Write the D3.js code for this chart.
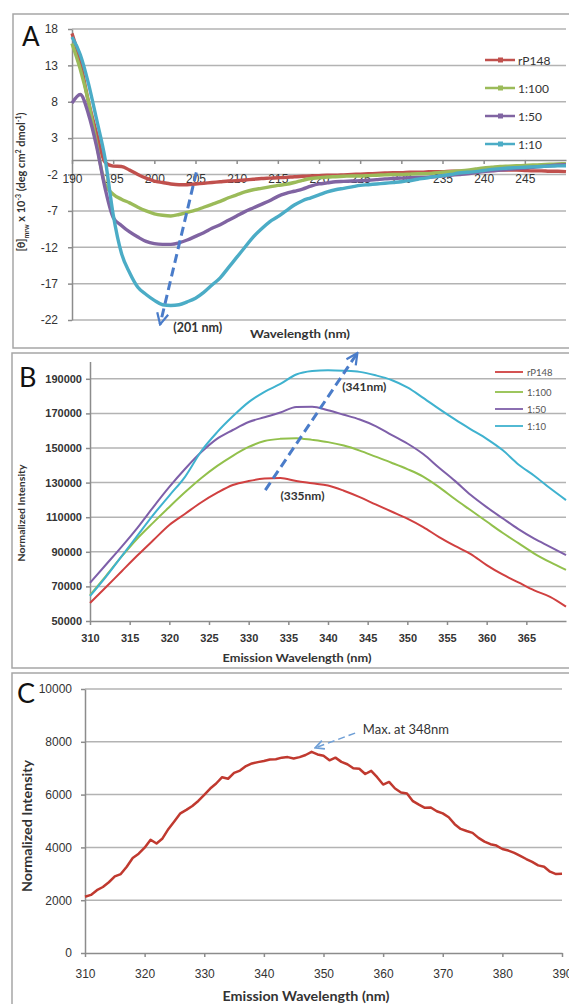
<!DOCTYPE html>
<html>
<head>
<meta charset="utf-8">
<script src="https://cdn.jsdelivr.net/npm/d3@7"></script>
<style>
  body { margin: 0; background: #fff; }
  svg { font-family: Lato, "Open Sans", sans-serif; }
  .axis path, .axis line { stroke: #8c8c8c; stroke-width: 1.5; }
  .axis text { fill: #333; }
</style>
</head>
<body>
<svg id="chart" width="569" height="1004"></svg>
<script>
// ---- Panel A: CD spectra ----
const aWave = d3.range(190, 251);
const aXTicks = [190, 195, 200, 205, 210, 215, 220, 225, 230, 235, 240, 245];
const aYTicks = [-22, -17, -12, -7, -2, 3, 8, 13, 18];
const aNames = ["rP148", "1:100", "1:50", "1:10"];
const aRP148 = [
  17.4, 13.5, 8.0, 3.6, -0.3, -0.85, -0.9, -1.4, -2.0, -2.5,
  -2.9, -3.1, -3.3, -3.4, -3.4, -3.3, -3.2, -3.1, -3.0, -2.9,
  -2.85, -2.75, -2.65, -2.55, -2.5, -2.45, -2.4, -2.3, -2.25, -2.2,
  -2.15, -2.1, -2.1, -2.05, -2.0, -1.95, -1.9, -1.85, -1.8, -1.75,
  -1.75, -1.7, -1.7, -1.65, -1.6, -1.6, -1.55, -1.55, -1.5, -1.5,
  -1.45, -1.45, -1.4, -1.4, -1.4, -1.45, -1.5, -1.5, -1.55, -1.55,
  -1.6];
const a1to100 = [
  16.0, 12.5, 8.0, 2.2, -3.3, -4.7, -5.4, -5.9, -6.5, -7.0,
  -7.4, -7.6, -7.7, -7.5, -7.2, -6.9, -6.5, -6.1, -5.7, -5.2,
  -4.8, -4.4, -4.1, -3.9, -3.7, -3.5, -3.35, -3.1, -2.8, -2.55,
  -2.45, -2.35, -2.3, -2.25, -2.2, -2.2, -2.15, -2.1, -2.05, -2.0,
  -2.0, -1.95, -1.9, -1.9, -1.8, -1.7, -1.6, -1.5, -1.4, -1.25,
  -1.1, -1.0, -0.9, -0.85, -0.8, -0.75, -0.7, -0.65, -0.6, -0.55,
  -0.5];
const a1to50 = [
  7.8, 9.0, 6.3, 1.8, -3.8, -7.9, -9.0, -9.9, -10.6, -11.2,
  -11.5, -11.6, -11.6, -11.4, -11.0, -10.5, -10.0, -9.4, -8.9, -8.3,
  -7.7, -7.1, -6.6, -6.1, -5.6, -5.0, -4.6, -4.3, -4.0, -3.6,
  -3.3, -3.15, -3.0, -2.95, -2.9, -2.85, -2.8, -2.7, -2.6, -2.55,
  -2.5, -2.45, -2.4, -2.4, -2.3, -2.2, -2.1, -2.0, -1.9, -1.75,
  -1.6, -1.5, -1.4, -1.3, -1.2, -1.1, -1.0, -0.9, -0.8, -0.7,
  -0.65];
const a1to10 = [
  16.9, 14.5, 10.5, 5.5, 0.3, -7.5, -12.8, -15.5, -17.5, -18.5,
  -19.3, -19.9, -20.0, -19.9, -19.5, -19.0, -18.2, -17.2, -16.2, -14.8,
  -13.4, -12.0, -10.6, -9.5, -8.5, -7.8, -7.0, -6.2, -5.6, -5.2,
  -4.8, -4.4, -4.1, -3.9, -3.7, -3.5, -3.4, -3.3, -3.2, -3.1,
  -3.0, -2.85, -2.65, -2.5, -2.3, -2.15, -2.0, -1.8, -1.7, -1.6,
  -1.45, -1.3, -1.2, -1.1, -1.05, -1.0, -0.95, -0.9, -0.85, -0.82,
  -0.8];

// ---- Panel B: fluorescence emission ----
const bWave = d3.range(310, 371, 2);
const bXTicks = [310, 315, 320, 325, 330, 335, 340, 345, 350, 355, 360, 365];
const bYTicks = [50000, 70000, 90000, 110000, 130000, 150000, 170000, 190000];
const bNames = ["rP148", "1:100", "1:50", "1:10"];
const bRP148 = [60400, 69500, 78800, 88000, 96800, 105500, 112000, 118500, 124000, 128600,
  130900, 132300, 132700, 130900, 129600, 128300, 125300, 121600, 117400, 113300,
  109200, 104300, 98500, 93400, 88700, 82300, 76900, 72300, 67700, 64000, 58300];
const b1to100 = [65000, 76000, 87300, 97800, 107000, 115900, 124500, 132500, 139500, 145500,
  150600, 154000, 155300, 155700, 154700, 153400, 151400, 148500, 145000, 141500,
  137800, 133500, 127400, 120500, 114000, 107500, 101000, 95000, 89000, 84000, 79500];
const b1to50 = [72000, 82500, 93000, 104000, 116000, 127500, 138000, 147500, 155300, 160400,
  165000, 167800, 170500, 173700, 173900, 171800, 169200, 166500, 162700, 157600,
  152600, 146500, 138600, 131000, 122800, 115800, 109400, 103100, 97600, 92900, 88100];
const b1to10 = [64400, 75500, 87500, 99500, 111500, 122500, 133500, 148000, 159000, 168300,
  176500, 182500, 187000, 192500, 194500, 195000, 194700, 194000, 192000, 189300,
  185000, 179000, 172600, 166500, 160800, 155300, 148800, 140500, 134000, 126700, 119900];

// ---- Panel C: single emission spectrum ----
const cWave = d3.range(310, 391);
const cXTicks = [310, 320, 330, 340, 350, 360, 370, 380, 390];
const cYTicks = [0, 2000, 4000, 6000, 8000, 10000];
const cRP148 = [
  2130, 2200, 2380, 2500, 2680, 2900, 2990, 3270, 3600, 3760,
  3990, 4290, 4150, 4340, 4700, 4990, 5290, 5420, 5570, 5760,
  5990, 6230, 6420, 6660, 6600, 6820, 6910, 7080, 7180, 7230,
  7270, 7330, 7340, 7400, 7420, 7370, 7420, 7500, 7620, 7520,
  7470, 7300, 7400, 7240, 7150, 7000, 6980, 6780, 6900, 6660,
  6380, 6480, 6230, 6080, 6040, 5750, 5620, 5500, 5510, 5370,
  5290, 5140, 4880, 4700, 4620, 4550, 4360, 4220, 4120, 4070,
  3940, 3880, 3790, 3680, 3560, 3450, 3320, 3270, 3080, 2990,
  3000];

const svg = d3.select("#chart");

// arrow heads
const defs = svg.append("defs");
function arrowHead(id, color, size) {
  defs.append("marker")
    .attr("id", id)
    .attr("viewBox", "0 0 10 10")
    .attr("refX", 9).attr("refY", 5)
    .attr("markerWidth", size).attr("markerHeight", size)
    .attr("markerUnits", "userSpaceOnUse")
    .attr("orient", "auto")
    .append("path")
      .attr("d", "M1,1 L9,5 L1,9")
      .attr("fill", "none")
      .attr("stroke", color)
      .attr("stroke-width", 1.6);
}
arrowHead("headBlue", "#4a7cc9", 14);
arrowHead("headLight", "#6f9fd6", 11);

function frame(x, y, w, h) {
  svg.append("rect")
    .attr("x", x).attr("y", y).attr("width", w).attr("height", h)
    .attr("fill", "none").attr("stroke", "#a6a6a6").attr("stroke-width", 1.5);
}

function drawPanel(p) {
  const x = d3.scaleLinear().domain(p.xDomain).range(p.xRange);
  const y = d3.scaleLinear().domain(p.yDomain).range(p.yRange);
  const g = svg.append("g");

  // gridlines
  g.append("g").selectAll("line")
    .data(p.grid)
    .join("line")
      .attr("x1", p.xRange[0]).attr("x2", p.xRange[1])
      .attr("y1", d => y(d)).attr("y2", d => y(d))
      .attr("stroke", "#b3b3b3").attr("stroke-width", 1.5);

  // y axis (plain hyphen minus, like the original)
  g.append("g")
    .attr("class", "axis")
    .attr("transform", `translate(${p.xRange[0]},0)`)
    .call(d3.axisLeft(y).tickValues(p.yTicks).tickSize(4).tickSizeOuter(0)
      .tickPadding(p.yPad).tickFormat(d => String(d)))
    .selectAll("text")
      .style("font-size", p.tickFont + "px")
      .style("font-weight", p.tickWeight);

  // x axis
  g.append("g")
    .attr("class", "axis")
    .attr("transform", `translate(0,${y(p.xAxisAt)})`)
    .call(d3.axisBottom(x).tickValues(p.xTicks).tickSize(4).tickSizeOuter(0)
      .tickPadding(p.xPad).tickFormat(d => String(d)))
    .selectAll("text")
      .style("font-size", p.tickFont + "px")
      .style("font-weight", p.tickWeight);

  // series
  const line = d3.line()
    .x(d => x(d[0]))
    .y(d => y(d[1]))
    .curve(p.curve);

  p.series.forEach((s, i) => {
    g.append("path")
      .datum(s.map((v, j) => [p.wave[j], v]))
      .attr("fill", "none")
      .attr("stroke", p.colors[i])
      .attr("stroke-width", p.lineWidth)
      .attr("stroke-linejoin", "round")
      .attr("d", line);
  });

  return { x, y, g };
}

// ================= Panel A =================
frame(13, 14, 570, 334);
const aColors = ["#c0504d", "#9bbb59", "#8064a2", "#4bacc6"];
const A = drawPanel({
  xDomain: [190, 250], xRange: [72, 566],
  yDomain: [-22, 18], yRange: [320, 29],
  grid: aYTicks, yTicks: aYTicks, xTicks: aXTicks, xAxisAt: 0,
  yPad: 10, xPad: 11, tickFont: 12, tickWeight: "normal",
  wave: aWave, series: [aRP148, a1to100, a1to50, a1to10],
  colors: aColors, lineWidth: 3.4, curve: d3.curveMonotoneX
});

// legend A
aNames.forEach((n, i) => {
  const ly = 60 + i * 28;
  svg.append("line").attr("x1", 485).attr("x2", 515).attr("y1", ly).attr("y2", ly)
    .attr("stroke", aColors[i]).attr("stroke-width", 2.5);
  svg.append("rect").attr("x", 498).attr("y", ly - 2.5).attr("width", 5).attr("height", 5)
    .attr("fill", aColors[i]);
  svg.append("text").attr("x", 518).attr("y", ly + 4.5)
    .style("font-size", "12px").attr("fill", "#333").text(n);
});

// arrow A
svg.append("line")
  .attr("x1", A.x(205.1)).attr("y1", A.y(-1.7))
  .attr("x2", A.x(200.7)).attr("y2", A.y(-22.6))
  .attr("stroke", "#4a7cc9").attr("stroke-width", 3)
  .attr("stroke-dasharray", "9,5")
  .attr("marker-end", "url(#headBlue)");
svg.append("text")
  .attr("x", A.x(202.3)).attr("y", A.y(-23.6))
  .style("font-size", "12.5px").style("font-weight", "bold").attr("fill", "#333")
  .text("(201 nm)");

svg.append("text").attr("x", 300).attr("y", 338).attr("text-anchor", "middle")
  .style("font-size", "11px").style("font-weight", "bold").attr("fill", "#333")
  .attr("textLength", 100).attr("lengthAdjust", "spacingAndGlyphs")
  .text("Wavelength (nm)");

const aTitle = svg.append("text")
  .attr("transform", "translate(25,182) rotate(-90)")
  .attr("text-anchor", "middle")
  .style("font-size", "11px").style("font-weight", "bold").attr("fill", "#333");
aTitle.append("tspan").text("[θ]");
aTitle.append("tspan").attr("baseline-shift", "sub").style("font-size", "7px").text("mrw");
aTitle.append("tspan").text(" x 10");
aTitle.append("tspan").attr("baseline-shift", "super").style("font-size", "7px").text("-3");
aTitle.append("tspan").text(" (deg cm");
aTitle.append("tspan").attr("baseline-shift", "super").style("font-size", "7px").text("2");
aTitle.append("tspan").text(" dmol");
aTitle.append("tspan").attr("baseline-shift", "super").style("font-size", "7px").text("-1");
aTitle.append("tspan").text(")");

svg.append("text").attr("x", 22).attr("y", 46)
  .style("font-size", "26px").attr("fill", "#111").text("A");

// ================= Panel B =================
frame(12, 353, 570, 315);
const bColors = ["#d04040", "#92c04c", "#7e5fa9", "#3fb2cf"];
const B = drawPanel({
  xDomain: [310, 370], xRange: [90, 566],
  yDomain: [50000, 200000], yRange: [621, 361.5],
  grid: bYTicks.slice(1), yTicks: bYTicks, xTicks: bXTicks, xAxisAt: 50000,
  yPad: 4, xPad: 9, tickFont: 11, tickWeight: "bold",
  wave: bWave, series: [bRP148, b1to100, b1to50, b1to10],
  colors: bColors, lineWidth: 2, curve: d3.curveMonotoneX
});

bNames.forEach((n, i) => {
  const ly = [372, 392, 409, 426][i];
  svg.append("line").attr("x1", 495).attr("x2", 523).attr("y1", ly).attr("y2", ly)
    .attr("stroke", bColors[i]).attr("stroke-width", 1.8);
  svg.append("text").attr("x", 527).attr("y", ly + 3.5)
    .style("font-size", "9.5px").attr("fill", "#555").text(n);
});

svg.append("line")
  .attr("x1", B.x(332.1)).attr("y1", B.y(125700))
  .attr("x2", B.x(343.7)).attr("y2", B.y(204900))
  .attr("stroke", "#4a7cc9").attr("stroke-width", 3)
  .attr("stroke-dasharray", "9,5")
  .attr("marker-end", "url(#headBlue)");
svg.append("text").attr("x", B.x(341.8)).attr("y", B.y(182900))
  .style("font-size", "12px").style("font-weight", "bold").attr("fill", "#333")
  .text("(341nm)");
svg.append("text").attr("x", B.x(334)).attr("y", B.y(119900))
  .style("font-size", "12px").style("font-weight", "bold").attr("fill", "#333")
  .text("(335nm)");

svg.append("text").attr("x", 297).attr("y", 662).attr("text-anchor", "middle")
  .style("font-size", "11px").style("font-weight", "bold").attr("fill", "#333")
  .attr("textLength", 149).attr("lengthAdjust", "spacingAndGlyphs")
  .text("Emission Wavelength (nm)");
svg.append("text").attr("transform", "translate(25,513) rotate(-90)")
  .attr("text-anchor", "middle")
  .style("font-size", "10px").style("font-weight", "bold").attr("fill", "#333")
  .attr("textLength", 97).attr("lengthAdjust", "spacingAndGlyphs")
  .text("Normalized Intensity");
svg.append("text").attr("x", 19).attr("y", 387)
  .style("font-size", "27px").attr("fill", "#111").text("B");

// ================= Panel C =================
frame(12, 673, 570, 340);
const C = drawPanel({
  xDomain: [310, 390], xRange: [85, 562],
  yDomain: [0, 10000], yRange: [953, 689],
  grid: cYTicks.slice(1), yTicks: cYTicks, xTicks: cXTicks, xAxisAt: 0,
  yPad: 9, xPad: 12, tickFont: 12, tickWeight: "normal",
  wave: cWave, series: [cRP148],
  colors: ["#c0392f"], lineWidth: 2.5, curve: d3.curveLinear
});

svg.append("line")
  .attr("x1", C.x(355.3)).attr("y1", C.y(8330))
  .attr("x2", C.x(348.6)).attr("y2", C.y(7770))
  .attr("stroke", "#6f9fd6").attr("stroke-width", 1.5)
  .attr("stroke-dasharray", "7,4")
  .attr("marker-end", "url(#headLight)");
svg.append("text").attr("x", C.x(356.6)).attr("y", C.y(8300))
  .style("font-size", "13px").attr("fill", "#333").text("Max. at 348nm");

svg.append("text").attr("x", 306).attr("y", 1001).attr("text-anchor", "middle")
  .style("font-size", "13px").style("font-weight", "bold").attr("fill", "#333")
  .attr("textLength", 167).attr("lengthAdjust", "spacingAndGlyphs")
  .text("Emission Wavelength (nm)");
svg.append("text").attr("transform", "translate(32,826) rotate(-90)")
  .attr("text-anchor", "middle")
  .style("font-size", "13px").style("font-weight", "bold").attr("fill", "#333")
  .attr("textLength", 132).attr("lengthAdjust", "spacingAndGlyphs")
  .text("Normalized Intensity");
svg.append("text").attr("x", 17).attr("y", 703)
  .style("font-size", "27px").attr("fill", "#111").text("C");
</script>
</body>
</html>
